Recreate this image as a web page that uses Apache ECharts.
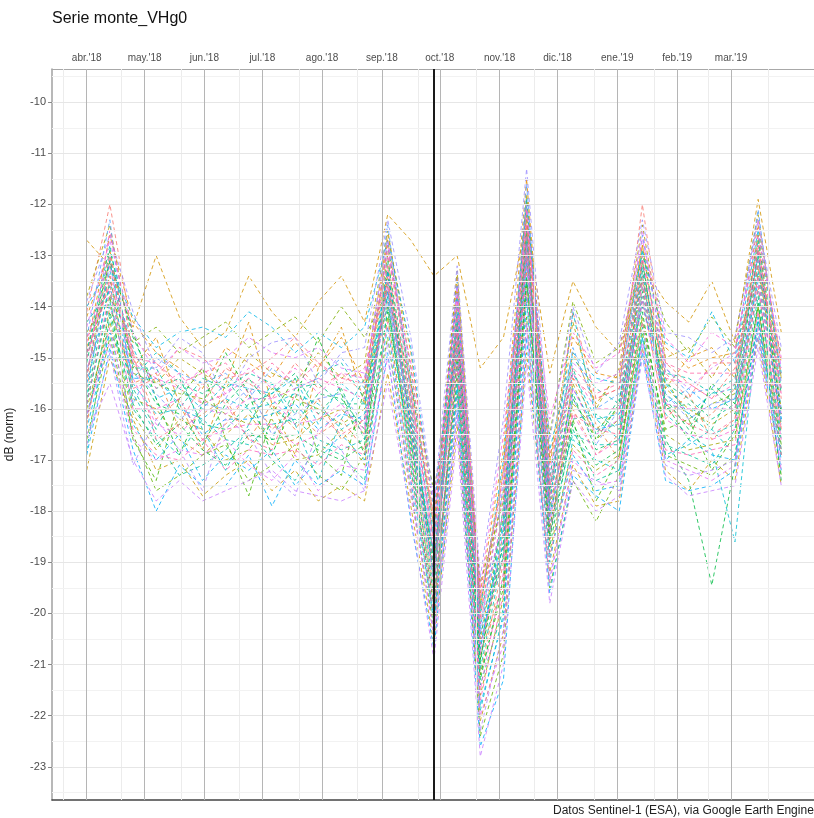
<!DOCTYPE html>
<html>
<head>
<meta charset="utf-8">
<script src="https://cdn.jsdelivr.net/npm/echarts@6/dist/echarts.min.js"></script>
<style>html,body{margin:0;padding:0;background:#fff;}#c{width:814px;height:818px;}</style>
</head>
<body>
<div id="c"></div>
<script>
// ---- data ----
const dates = ['2018-04-01','2018-04-13','2018-04-25','2018-05-07','2018-05-19','2018-05-31','2018-06-12','2018-06-24','2018-07-06','2018-07-18','2018-07-30','2018-08-11','2018-08-23','2018-09-04','2018-09-16','2018-09-28','2018-10-10','2018-10-22','2018-11-03','2018-11-15','2018-11-27','2018-12-09','2018-12-21','2019-01-02','2019-01-14','2019-01-26','2019-02-07','2019-02-19','2019-03-03','2019-03-15','2019-03-27'];
const monthStarts = ['2018-04-01','2018-05-01','2018-06-01','2018-07-01','2018-08-01','2018-09-01','2018-10-01','2018-11-01','2018-12-01','2019-01-01','2019-02-01','2019-03-01'];
const monthLabels = ["abr.'18","may.'18","jun.'18","jul.'18","ago.'18","sep.'18","oct.'18","nov.'18","dic.'18","ene.'19","feb.'19","mar.'19"];
const minorDates = ['2018-03-20','2018-04-19','2018-05-20','2018-06-19','2018-07-20','2018-08-19','2018-09-20','2018-10-20','2018-11-19','2018-12-20','2019-01-20','2019-02-17','2019-03-20'];
const eventDate = '2018-09-28';
const yTicks = [-10,-11,-12,-13,-14,-15,-16,-17,-18,-19,-20,-21,-22,-23];
const yMinor = [-9.5,-10.5,-11.5,-12.5,-13.5,-14.5,-15.5,-16.5,-17.5,-18.5,-19.5,-20.5,-21.5,-22.5,-23.5];

const s01 = [-12.7,-13.2,-14.4,-13.0,-14.2,-14.8,-14.5,-13.4,-14.1,-14.6,-13.9,-13.4,-14.3,-12.2,-12.7,-13.4,-13.0,-15.2,-14.6,-12.3,-15.3,-13.5,-14.4,-14.9,-13.2,-13.9,-14.3,-13.5,-14.7,-11.9,-14.5];
const s02 = [-14.1,-12.0,-14.6,-15.1,-15.6,-15.9,-15.2,-15.5,-15.8,-15.1,-15.6,-15.3,-15.7,-12.9,-15.6,-18.7,-13.6,-20.1,-17.2,-12.1,-17.4,-14.1,-15.8,-15.6,-12.0,-15.1,-15.5,-15.8,-15.2,-12.8,-15.8];
const s03 = [-15.6,-13.1,-15.0,-16.2,-15.8,-16.6,-16.3,-15.7,-16.4,-16.0,-16.5,-16.2,-16.8,-13.2,-16.4,-19.6,-14.2,-21.2,-19.0,-12.4,-18.3,-16.0,-16.9,-16.5,-13.1,-15.9,-16.3,-16.1,-15.6,-12.9,-16.4];
const s04 = [-16.3,-14.0,-15.5,-15.3,-16.4,-16.1,-15.8,-16.6,-15.9,-16.4,-15.8,-16.6,-16.2,-13.9,-16.9,-20.2,-15.0,-20.8,-19.4,-13.3,-18.6,-15.4,-16.3,-17.0,-13.8,-16.2,-15.7,-16.6,-16.2,-13.6,-16.8];
const s05 = [-14.8,-12.6,-14.3,-14.9,-15.2,-15.6,-14.8,-15.1,-15.4,-14.7,-15.2,-14.6,-15.5,-12.6,-14.9,-18.2,-13.4,-19.6,-16.8,-11.5,-17.1,-14.6,-15.3,-15.4,-12.8,-14.8,-15.2,-15.0,-14.9,-12.4,-15.1];
const s06 = [-17.2,-15.0,-16.2,-17.2,-17.0,-17.7,-17.3,-17.0,-17.6,-17.2,-17.8,-17.5,-17.8,-15.3,-17.9,-20.6,-16.3,-22.1,-20.4,-14.9,-19.2,-17.1,-17.9,-17.8,-14.8,-17.2,-17.6,-17.0,-17.4,-14.6,-17.5];
const s07 = [-15.0,-13.4,-15.8,-16.0,-16.6,-16.9,-16.5,-16.1,-16.7,-16.6,-16.2,-16.0,-16.5,-13.4,-16.0,-19.3,-14.7,-20.5,-18.1,-12.7,-17.9,-15.9,-16.4,-16.0,-13.5,-15.6,-16.0,-16.3,-16.0,-13.2,-16.0];
const s08 = [-13.8,-12.4,-14.9,-15.5,-15.0,-15.3,-15.6,-14.9,-15.3,-15.5,-14.9,-15.4,-15.1,-12.5,-15.2,-18.4,-13.3,-19.8,-17.6,-11.8,-17.0,-14.3,-16.0,-15.2,-12.4,-15.0,-14.8,-15.4,-14.6,-12.2,-15.4];
const s09 = [-16.0,-14.3,-16.1,-16.8,-16.2,-16.4,-17.0,-16.8,-16.2,-17.0,-16.9,-16.4,-17.1,-14.2,-17.2,-19.8,-15.3,-21.6,-19.7,-13.6,-18.8,-16.7,-17.2,-16.9,-14.2,-16.5,-16.8,-16.7,-16.6,-14.0,-16.9];
const s10 = [-15.4,-13.0,-15.3,-15.5,-15.7,-15.8,-16.1,-16.3,-15.6,-15.8,-16.0,-16.3,-16.0,-13.0,-16.5,-19.1,-14.0,-20.9,-18.4,-12.2,-18.1,-15.5,-16.6,-16.2,-13.3,-15.4,-16.2,-15.9,-15.7,-12.6,-16.1];
const s11 = [-14.5,-13.8,-14.7,-14.4,-14.9,-14.6,-14.3,-14.8,-14.5,-14.2,-14.7,-14.0,-14.6,-13.7,-15.5,-17.6,-14.8,-19.4,-17.8,-13.1,-16.5,-13.9,-15.1,-14.8,-13.0,-14.3,-14.9,-14.2,-14.8,-13.4,-14.9];
const s12 = [-16.6,-14.6,-16.5,-17.6,-17.3,-16.9,-16.7,-17.4,-17.1,-16.7,-17.3,-17.6,-16.9,-14.6,-17.6,-20.3,-15.7,-22.4,-20.8,-14.2,-19.5,-17.4,-18.2,-17.3,-14.5,-16.9,-17.1,-17.3,-16.9,-14.3,-17.3];
const s13 = [-15.8,-13.5,-15.1,-15.9,-16.1,-16.7,-15.9,-15.4,-16.0,-16.3,-15.7,-15.8,-16.4,-13.6,-16.2,-18.9,-14.4,-20.2,-18.7,-12.8,-17.7,-15.7,-16.8,-16.6,-13.7,-15.8,-16.4,-15.6,-16.1,-13.1,-16.3];
const s14 = [-15.1,-12.9,-14.6,-15.6,-15.4,-16.3,-16.4,-15.9,-15.7,-15.3,-16.1,-15.6,-16.6,-13.1,-15.8,-19.4,-14.3,-21.0,-17.9,-12.5,-18.4,-16.2,-16.1,-16.4,-13.4,-16.0,-15.9,-16.4,-15.5,-13.0,-15.7];
const s15 = [-14.3,-13.7,-15.6,-16.4,-15.5,-15.7,-15.4,-16.0,-16.6,-15.6,-15.5,-15.9,-15.9,-13.8,-16.7,-18.8,-14.9,-20.4,-18.9,-13.0,-17.6,-15.2,-16.5,-15.8,-14.0,-15.5,-15.8,-16.2,-15.9,-13.7,-16.5];
const s16 = [-16.8,-14.2,-16.0,-16.6,-17.3,-17.1,-16.8,-16.4,-17.0,-17.4,-16.7,-16.9,-17.4,-14.0,-17.0,-20.0,-15.1,-21.4,-19.9,-13.5,-18.5,-16.4,-17.4,-17.2,-14.4,-16.7,-16.9,-17.1,-16.4,-13.8,-16.6];
const s17 = [-14.9,-12.8,-15.2,-15.2,-16.0,-15.4,-15.6,-15.3,-15.5,-16.1,-15.3,-15.1,-15.8,-12.8,-15.4,-18.5,-13.9,-20.0,-18.2,-11.9,-17.3,-15.0,-15.6,-15.9,-12.9,-15.3,-15.4,-15.7,-15.4,-12.7,-15.6];
const s18 = [-15.9,-13.9,-15.7,-16.5,-16.9,-16.2,-16.6,-16.7,-16.3,-16.2,-16.6,-16.8,-16.6,-13.5,-16.6,-19.5,-14.6,-21.1,-18.8,-12.9,-18.0,-16.5,-16.7,-16.7,-13.6,-15.7,-16.1,-16.5,-16.3,-13.3,-16.2];
const s19 = [-15.3,-13.3,-14.8,-15.8,-15.6,-16.0,-15.5,-15.6,-15.7,-15.4,-16.3,-15.5,-15.9,-13.3,-16.1,-19.0,-14.1,-20.7,-18.3,-12.6,-17.8,-15.3,-16.2,-16.1,-13.2,-15.5,-16.1,-15.7,-15.6,-13.0,-16.0];
const s20 = [-14.0,-13.2,-14.2,-14.8,-14.5,-14.4,-14.6,-14.1,-14.4,-14.9,-14.5,-14.8,-14.4,-12.7,-14.8,-18.0,-13.8,-19.9,-17.0,-12.0,-16.8,-14.9,-15.4,-15.5,-12.9,-14.7,-15.0,-14.1,-15.1,-12.5,-15.3];
const s21 = [-16.4,-14.5,-16.3,-17.0,-16.5,-17.4,-16.9,-17.2,-16.8,-17.5,-17.0,-16.5,-17.0,-14.4,-17.4,-20.1,-15.5,-21.8,-20.1,-13.8,-18.9,-16.9,-17.6,-17.5,-14.6,-17.0,-16.6,-16.9,-17.0,-14.2,-17.0];
const s22 = [-16.9,-14.8,-16.8,-18.0,-17.1,-17.5,-17.5,-16.9,-17.9,-17.0,-17.5,-17.2,-17.5,-14.9,-18.2,-20.7,-16.0,-22.6,-21.3,-14.6,-19.6,-17.3,-17.7,-18.0,-14.9,-17.4,-17.6,-17.5,-17.2,-14.5,-17.2];
const s23 = [-15.5,-13.6,-15.4,-15.4,-15.9,-16.5,-16.2,-16.2,-16.1,-15.9,-16.4,-16.1,-16.2,-13.7,-16.3,-19.2,-14.5,-20.6,-18.6,-13.1,-18.2,-15.6,-16.4,-16.3,-13.9,-15.9,-15.6,-16.0,-15.8,-13.5,-16.2];
const s24 = [-14.6,-12.3,-15.9,-15.0,-15.3,-15.5,-15.3,-15.8,-15.2,-15.6,-15.4,-15.0,-15.6,-12.4,-15.7,-18.6,-13.5,-20.3,-17.5,-11.6,-17.5,-14.8,-16.0,-15.7,-12.6,-15.2,-15.7,-15.6,-15.0,-12.1,-15.5];
const s25 = [-16.2,-14.1,-15.9,-16.7,-16.3,-16.8,-17.1,-16.5,-16.6,-16.5,-16.8,-17.0,-16.7,-14.1,-16.8,-19.7,-15.4,-21.3,-19.3,-13.4,-18.7,-16.3,-17.1,-16.8,-14.1,-16.6,-17.4,-19.45,-17.1,-13.9,-17.4];
const s26 = [-15.7,-13.1,-15.5,-16.1,-16.0,-16.2,-15.8,-16.0,-15.9,-15.7,-15.9,-16.4,-16.1,-13.3,-16.4,-19.3,-14.2,-20.7,-18.2,-12.7,-17.9,-14.1,-16.2,-16.6,-13.3,-16.1,-16.5,-16.8,-18.6,-14.2,-16.8];
const s27 = [-15.2,-14.0,-15.3,-15.7,-16.2,-15.9,-16.0,-15.6,-16.5,-16.1,-15.8,-15.7,-16.3,-13.9,-16.0,-18.8,-14.8,-20.4,-18.0,-13.2,-18.0,-15.8,-16.7,-16.0,-13.8,-15.7,-16.2,-15.9,-15.8,-13.4,-16.3];
const s28 = [-14.4,-12.7,-14.5,-15.3,-14.8,-15.1,-15.0,-14.6,-14.9,-15.0,-14.8,-15.2,-15.3,-12.7,-15.3,-18.3,-13.6,-19.7,-17.4,-12.0,-17.2,-15.1,-15.5,-15.3,-12.5,-15.2,-15.6,-15.2,-14.9,-12.3,-15.2];
const s29 = [-16.1,-14.7,-16.6,-17.0,-16.8,-16.9,-16.6,-17.1,-17.4,-16.9,-17.6,-17.1,-17.2,-15.0,-17.7,-20.4,-16.1,-22.0,-20.6,-14.4,-19.4,-17.0,-17.5,-17.4,-14.7,-17.0,-17.2,-17.4,-17.1,-14.4,-17.2];
const s30 = [-16.5,-15.5,-17.0,-17.8,-17.4,-17.8,-17.6,-17.4,-17.2,-17.6,-17.7,-17.8,-17.6,-15.5,-18.1,-20.9,-16.5,-22.8,-21.0,-15.1,-19.8,-17.4,-18.0,-17.7,-15.0,-17.3,-17.7,-17.6,-17.5,-14.8,-17.5];
const s31 = [-15.0,-13.2,-15.4,-16.3,-16.5,-16.0,-16.1,-15.8,-15.8,-16.3,-16.2,-15.9,-16.5,-13.4,-16.5,-19.4,-14.4,-20.8,-18.4,-12.8,-18.2,-15.6,-16.5,-16.2,-13.5,-15.9,-16.0,-16.0,-16.0,-13.1,-16.1];
const s32 = [-14.7,-13.0,-15.1,-15.4,-15.6,-15.2,-15.7,-15.2,-15.6,-15.2,-15.7,-15.3,-15.4,-13.0,-15.1,-17.9,-13.8,-19.5,-16.5,-12.4,-16.2,-14.5,-15.2,-14.9,-12.7,-14.6,-15.1,-14.5,-14.8,-12.6,-15.0];
const s33 = [-15.9,-13.7,-16.0,-16.0,-15.8,-16.6,-16.4,-16.3,-16.3,-16.7,-16.5,-16.0,-16.4,-13.6,-16.9,-19.8,-14.9,-21.5,-19.2,-13.0,-18.4,-16.1,-16.9,-16.6,-13.9,-16.2,-16.5,-16.6,-16.4,-13.6,-16.6];
const s34 = [-15.4,-12.5,-14.9,-15.6,-15.3,-15.9,-15.7,-15.4,-15.8,-15.6,-15.4,-15.6,-15.8,-12.8,-15.6,-18.9,-13.9,-20.2,-18.0,-12.1,-17.7,-15.3,-16.0,-16.0,-13.0,-15.4,-15.5,-15.8,-15.5,-12.9,-15.7];
const s35 = [-16.2,-14.4,-16.4,-16.9,-17.0,-16.6,-17.2,-16.8,-16.9,-16.8,-17.1,-16.7,-16.9,-14.3,-17.3,-20.0,-15.2,-21.7,-19.6,-13.7,-18.9,-16.8,-17.3,-17.0,-14.3,-16.8,-16.9,-16.8,-16.7,-14.1,-16.9];
const s36 = [-14.9,-13.5,-15.0,-15.1,-15.5,-15.3,-15.1,-15.7,-15.1,-15.5,-15.1,-15.4,-15.5,-13.2,-15.9,-18.6,-14.2,-20.0,-17.7,-12.6,-17.5,-15.2,-15.7,-15.5,-13.1,-15.1,-15.3,-15.3,-15.3,-12.8,-15.6];
const s37 = [-14.2,-12.9,-15.2,-14.6,-15.9,-16.8,-15.5,-14.3,-15.9,-16.9,-15.2,-14.4,-15.9,-12.7,-15.5,-18.3,-13.7,-19.9,-17.1,-11.9,-17.6,-14.9,-15.9,-15.3,-12.8,-15.6,-15.0,-14.8,-15.4,-12.6,-15.4];
const s38 = [-15.9,-13.8,-16.6,-17.4,-15.8,-15.2,-16.6,-17.7,-16.1,-15.4,-16.9,-17.3,-15.6,-14.0,-16.6,-19.9,-15.0,-21.2,-19.5,-13.5,-18.3,-16.2,-17.8,-16.9,-14.3,-16.4,-16.2,-17.2,-16.5,-14.0,-16.7];
const s39 = [-14.9,-13.1,-14.5,-15.8,-16.9,-15.9,-14.9,-15.7,-16.9,-15.8,-14.6,-15.7,-16.9,-13.3,-16.3,-19.0,-14.4,-20.9,-18.6,-12.5,-18.5,-15.8,-16.6,-15.9,-13.1,-15.9,-16.6,-15.5,-15.9,-12.9,-16.1];
const s40 = [-16.1,-14.5,-15.4,-14.9,-15.3,-16.4,-17.2,-16.3,-15.5,-16.3,-17.4,-16.2,-15.4,-13.8,-17.1,-20.2,-15.6,-21.9,-20.0,-13.9,-19.0,-16.6,-17.0,-17.2,-14.6,-16.9,-16.7,-16.4,-16.9,-14.3,-16.9];
const s41 = [-13.9,-12.6,-14.1,-15.2,-14.6,-14.9,-15.8,-15.0,-14.7,-14.6,-15.5,-14.9,-14.8,-12.3,-14.6,-17.8,-13.2,-19.3,-16.2,-11.3,-16.6,-14.0,-15.3,-14.7,-12.3,-14.5,-14.6,-14.9,-14.6,-12.3,-14.8];
const s42 = [-16.7,-14.9,-17.1,-16.2,-16.8,-17.6,-16.2,-16.5,-17.3,-17.7,-16.4,-16.8,-17.6,-14.7,-17.5,-20.5,-15.8,-22.3,-20.3,-14.3,-19.3,-17.2,-17.4,-17.6,-14.8,-17.1,-17.3,-17.2,-17.0,-14.6,-17.1];
const s43 = [-15.3,-13.4,-14.9,-16.6,-16.3,-15.5,-15.9,-16.6,-16.8,-15.7,-16.1,-16.5,-16.2,-13.6,-16.2,-19.2,-14.6,-20.6,-18.9,-12.9,-17.8,-16.1,-16.4,-16.5,-13.6,-16.0,-16.3,-16.5,-16.2,-13.4,-16.4];
const s44 = [-14.6,-13.6,-15.6,-15.4,-14.8,-15.0,-15.4,-15.3,-15.0,-14.6,-15.1,-15.5,-15.2,-13.5,-15.8,-18.1,-14.5,-19.7,-17.3,-12.4,-16.9,-15.4,-15.8,-15.6,-13.4,-15.3,-15.8,-15.1,-15.1,-13.2,-15.3];

const seriesValues = [s02,s03,s04,s05,s37,s01,s06,s07,s08,s09,s10,s11,s12,s38,s39,s25,s13,s14,s15,s16,s17,s18,s40,s26,s19,s20,s21,s22,s23,s24,s27,s41,s42,s30,s28,s29,s31,s32,s33,s34,s35,s36,s43,s44];

// ---- helpers ----
const toDay = s => { const p = s.split('-').map(Number); return (Date.UTC(p[0], p[1]-1, p[2]) - Date.UTC(2018, 3, 1)) / 86400000; };
const days = dates.map(toDay);
const monthDays = monthStarts.map(toDay);
const minorDays = minorDates.map(toDay);
const labelByDay = {}; monthDays.forEach((d, i) => { labelByDay[d] = monthLabels[i]; });

function hcl(h, c, l) {
  const hr = h * Math.PI / 180;
  const U = c * Math.cos(hr), V = c * Math.sin(hr);
  const Xn = 95.047, Yn = 100.0, Zn = 108.883;
  const den = Xn + 15 * Yn + 3 * Zn;
  const un = 4 * Xn / den, vn = 9 * Yn / den;
  const Y = l > 8 ? Yn * Math.pow((l + 16) / 116, 3) : Yn * l / 903.3;
  const u = U / (13 * l) + un, v = V / (13 * l) + vn;
  const X = 9 * Y * u / (4 * v);
  const Z = -X / 3 - 5 * Y + 3 * Y / v;
  const x = X / 100, y = Y / 100, z = Z / 100;
  const lin = [3.240479 * x - 1.537150 * y - 0.498535 * z,
               -0.969256 * x + 1.875992 * y + 0.041556 * z,
               0.055648 * x - 0.204043 * y + 1.057311 * z];
  const g = t => { t = t <= 0.0031308 ? 12.92 * t : 1.055 * Math.pow(t, 1 / 2.4) - 0.055; return Math.max(0, Math.min(255, Math.round(t * 255))); };
  return 'rgb(' + lin.map(g).join(',') + ')';
}
const N = seriesValues.length;
const palette = seriesValues.map((_, i) => hcl(15 + 360 * i / N, 100, 65));

const XMIN = -18, XMAX = 378, YMIN = -23.65, YMAX = -9.35;

const gridLines = [];
minorDays.forEach(d => gridLines.push({ xAxis: d, lineStyle: { color: '#ececec', width: 1, type: 'solid' } }));
yMinor.forEach(v => gridLines.push({ yAxis: v, lineStyle: { color: '#f2f2f2', width: 1, type: 'solid' } }));
yTicks.forEach(v => gridLines.push({ yAxis: v, lineStyle: { color: '#e6e6e6', width: 1, type: 'solid' } }));
monthDays.forEach(d => gridLines.push({ xAxis: d, lineStyle: { color: '#b5b5b5', width: 1, type: 'solid' } }));

const series = [{
  type: 'line', data: [], silent: true, z: 1, animation: false,
  markLine: { silent: true, symbol: ['none', 'none'], label: { show: false }, animation: false, data: gridLines }
}];
seriesValues.forEach((vals, k) => {
  series.push({
    type: 'line', name: 's' + k, z: 2, silent: true, animation: false,
    symbol: 'none', showSymbol: false,
    data: vals.map((v, i) => [days[i], v]),
    lineStyle: { width: 0.85, type: [4, 3], color: palette[k], opacity: 0.95 }
  });
});
series.push({
  type: 'line', data: [], silent: true, z: 3, animation: false,
  markLine: { silent: true, symbol: ['none', 'none'], label: { show: false }, animation: false,
    data: [{ xAxis: toDay(eventDate), lineStyle: { color: '#1a1a1a', width: 2, type: 'solid' } }] }
});

const chart = echarts.init(document.getElementById('c'), null, { renderer: 'canvas' });
chart.setOption({
  backgroundColor: '#fff',
  animation: false,
  textStyle: { fontFamily: 'Liberation Sans, Arial, sans-serif' },
  grid: { left: 52, right: -2, top: 69, bottom: 18, containLabel: false, outerBoundsMode: 'none' },
  graphic: [
    { type: 'text', left: 52, top: 11, style: { text: 'Serie monte_VHg0', font: '16px "Liberation Sans", Arial, sans-serif', fill: '#111' } },
    { type: 'text', left: 553, top: 805, style: { text: 'Datos Sentinel-1 (ESA), via Google Earth Engine', font: '12px "Liberation Sans", Arial, sans-serif', fill: '#222' } }
  ],
  xAxis: [{
    type: 'value', position: 'top', min: XMIN, max: XMAX,
    axisLine: { show: true, onZero: false, lineStyle: { color: '#a8a8a8', width: 1 } },
    axisTick: { show: true, inside: true, length: 4, customValues: monthDays, lineStyle: { color: '#666' } },
    axisLabel: { customValues: monthDays, formatter: v => labelByDay[v] || '', fontSize: 10, color: '#4d4d4d', margin: 6 },
    splitLine: { show: false }
  }, {
    type: 'value', position: 'bottom', min: XMIN, max: XMAX,
    axisLine: { show: true, onZero: false, lineStyle: { color: '#444', width: 1.5 } },
    axisTick: { show: false }, axisLabel: { show: false }, splitLine: { show: false }
  }],
  yAxis: {
    type: 'value', min: YMIN, max: YMAX,
    name: 'dB (norm)', nameLocation: 'middle', nameGap: 36, nameRotate: 90,
    nameTextStyle: { fontSize: 12, color: '#222' },
    axisLine: { show: true, onZero: false, lineStyle: { color: '#a0a0a0', width: 1.5 } },
    axisTick: { show: true, length: 4, customValues: yTicks, lineStyle: { color: '#888' } },
    axisLabel: { customValues: yTicks, fontSize: 11, color: '#4d4d4d', margin: 6 },
    splitLine: { show: false }
  },
  series: series
});
</script>
</body>
</html>
